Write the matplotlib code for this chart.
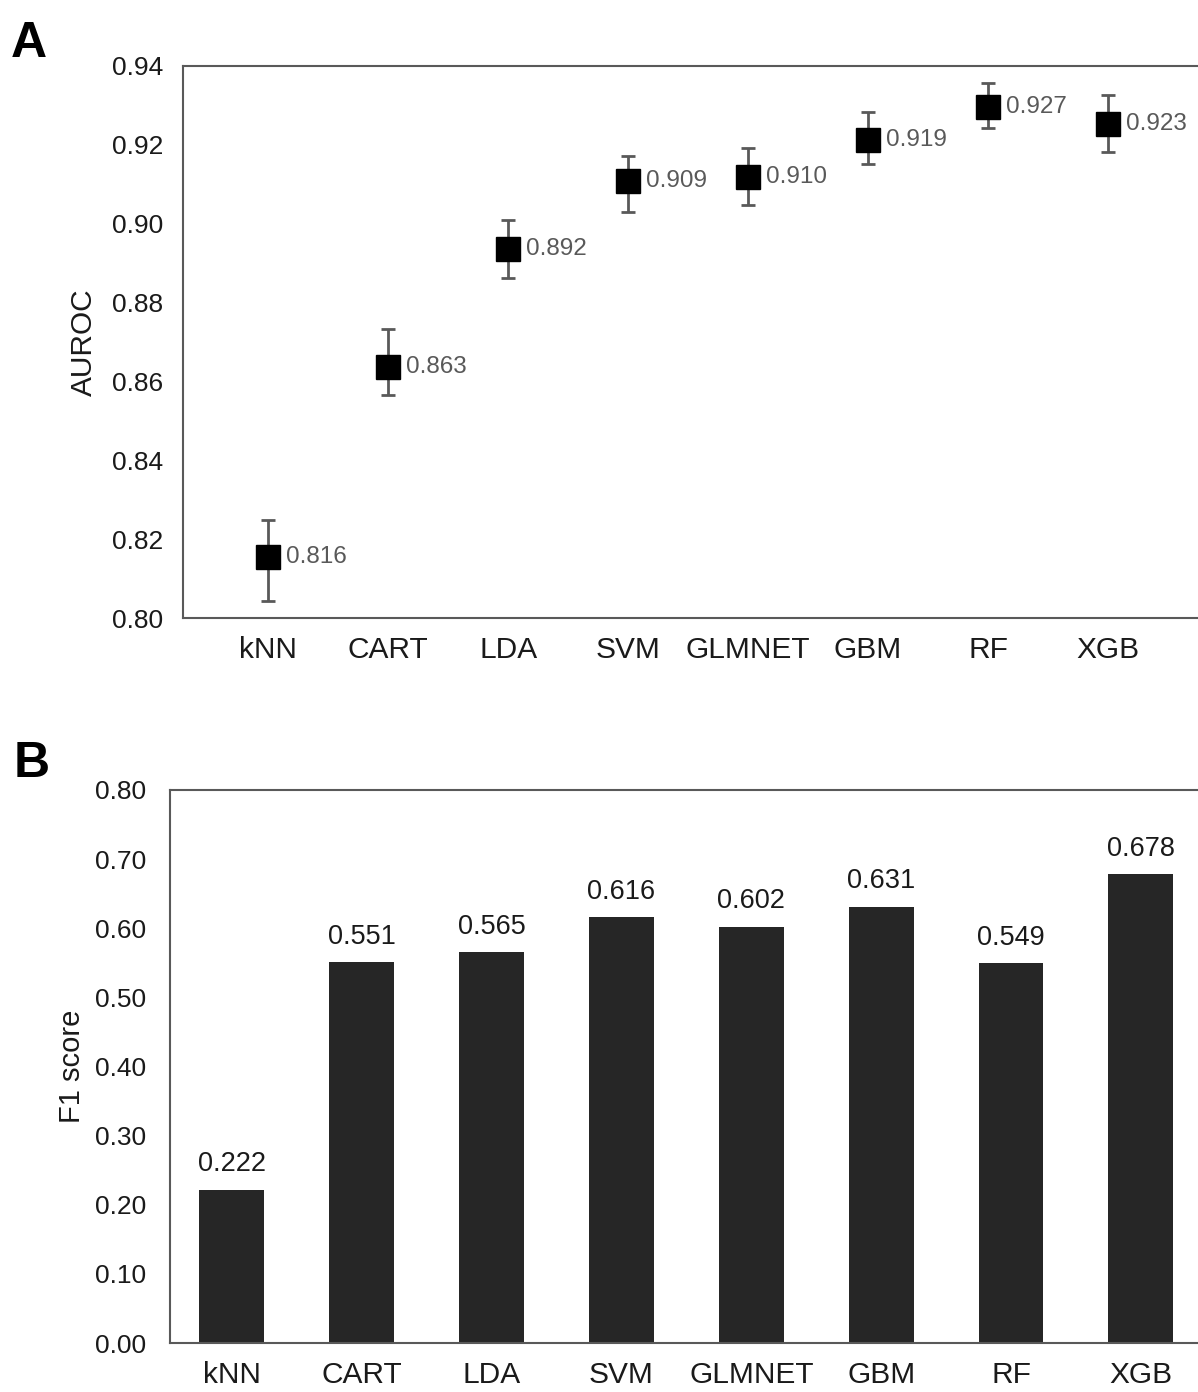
import numpy as np
import matplotlib
matplotlib.use("Agg")
import matplotlib.pyplot as plt

plt.rcParams['font.family'] = ['Liberation Sans', 'DejaVu Sans']

# Data
models = ['kNN', 'CART', 'LDA', 'SVM', 'GLMNET', 'GBM', 'RF', 'XGB']
auroc_mean = [0.8155, 0.8637, 0.8936, 0.9108, 0.9118, 0.9212, 0.9296, 0.9253]
auroc_low = [0.8043, 0.8566, 0.8862, 0.9030, 0.9047, 0.9151, 0.9243, 0.9182]
auroc_high = [0.8248, 0.8733, 0.9009, 0.9172, 0.9192, 0.9283, 0.9357, 0.9326]
auroc_labels = ['0.816', '0.863', '0.892', '0.909', '0.910', '0.919', '0.927', '0.923']
f1_scores = [0.222, 0.551, 0.565, 0.616, 0.602, 0.631, 0.549, 0.678]
auroc_ticks = [0.80, 0.82, 0.84, 0.86, 0.88, 0.90, 0.92, 0.94]
f1_ticks = [0.00, 0.10, 0.20, 0.30, 0.40, 0.50, 0.60, 0.70, 0.80]

SPINE = '#595959'
TXT = '#1a1a1a'

fig = plt.figure(figsize=(11.98, 13.92), dpi=100)

# ---- Panel A: AUROC with error bars
axA = fig.add_axes([0.1528, 0.556, 0.8472, 0.3966])
x = np.arange(len(models))
mean = np.array(auroc_mean)
err = np.vstack([mean - np.array(auroc_low), np.array(auroc_high) - mean])
axA.errorbar(x, mean, yerr=err, fmt='none', ecolor=SPINE, elinewidth=2,
             capsize=5, capthick=2, zorder=2)
axA.plot(x, mean, 's', color='black', markersize=17, zorder=3)
for xi, yi, lab in zip(x, mean, auroc_labels):
    axA.annotate(lab, (xi, yi), xytext=(13, 0), textcoords='offset points',
                 ha='left', va='center', fontsize=17.5, color='#595959')
axA.set_xlim(-0.71, 7.75)
axA.set_ylim(0.80, 0.94)
axA.set_yticks(auroc_ticks)
axA.set_yticklabels(['%.2f' % t for t in auroc_ticks])
axA.set_xticks(x)
axA.set_xticklabels(models)
axA.tick_params(axis='y', length=0, pad=14, labelsize=19, labelcolor=TXT)
axA.tick_params(axis='x', length=0, pad=13, labelsize=21.5, labelcolor=TXT)
axA.set_ylabel('AUROC', fontsize=21.5, color=TXT)
axA.yaxis.set_label_coords(-0.084, 0.5)
axA.spines['right'].set_visible(False)
for s in ['left', 'top', 'bottom']:
    axA.spines[s].set_color(SPINE)
    axA.spines[s].set_linewidth(1.5)

# ---- Panel B: F1 score bars
axB = fig.add_axes([0.1419, 0.0352, 0.8581, 0.3973])
axB.bar(x, f1_scores, width=0.5, color='#262626', zorder=2)
for xi, v in zip(x, f1_scores):
    axB.annotate('%.3f' % v, (xi, v), xytext=(0, 9), textcoords='offset points',
                 ha='center', va='bottom', fontsize=19.5, color=TXT)
axB.set_xlim(-0.477, 7.44)
axB.set_ylim(0.0, 0.80)
axB.set_yticks(f1_ticks)
axB.set_yticklabels(['%.2f' % t for t in f1_ticks])
axB.set_xticks(x)
axB.set_xticklabels(models)
axB.tick_params(axis='y', length=0, pad=17, labelsize=19, labelcolor=TXT)
axB.tick_params(axis='x', length=0, pad=13, labelsize=21.5, labelcolor=TXT)
axB.set_ylabel('F1 score', fontsize=21, color=TXT)
axB.yaxis.set_label_coords(-0.082, 0.5)
axB.spines['right'].set_visible(False)
for s in ['left', 'top', 'bottom']:
    axB.spines[s].set_color(SPINE)
    axB.spines[s].set_linewidth(1.5)

fig.text(0.009, 0.985, 'A', fontsize=36, fontweight='bold', va='top', ha='left')
fig.text(0.011, 0.468, 'B', fontsize=36, fontweight='bold', va='top', ha='left')

fig.savefig('out.png', dpi=100)
